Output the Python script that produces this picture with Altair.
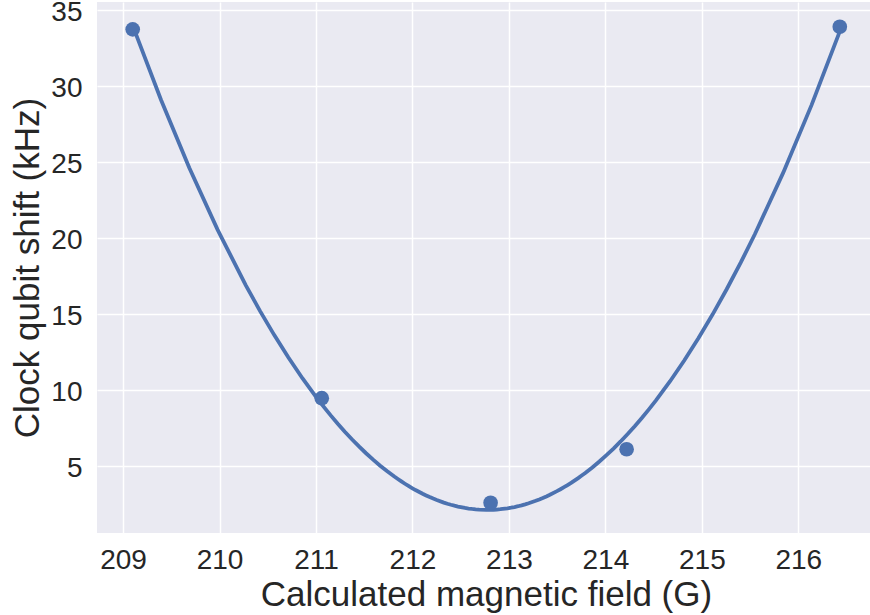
import altair as alt
import pandas as pd

field = [209.10, 211.06, 212.81, 214.22, 216.43]
shift = [33.75, 9.48, 2.60, 6.12, 33.92]

df = pd.DataFrame({"field": field, "shift": shift})

color = "#4c72b0"
x = alt.X("field:Q", scale=alt.Scale(domain=[208.73, 216.743], nice=False, zero=False),
          axis=alt.Axis(title="Calculated magnetic field (G)", values=list(range(209, 217)),
                        format="d", labelPadding=13, titlePadding=3, titleX=389))
y = alt.Y("shift:Q", scale=alt.Scale(domain=[0.61, 35.55], nice=False, zero=False),
          axis=alt.Axis(title="Clock qubit shift (kHz)", values=[5, 10, 15, 20, 25, 30, 35],
                        labelPadding=15, titlePadding=5, labelOffset=2))

pts = alt.Chart(df).mark_circle(size=215, opacity=1, color=color).encode(x=x, y=y)
fit = alt.Chart(df).transform_regression("field", "shift", method="poly", order=2).mark_line(
    color=color, strokeWidth=3.8).encode(x=x, y=y)

chart = (fit + pts).properties(
    width=773, height=531,
    autosize=alt.AutoSizeParams(type="none"),
    padding={"left": 97, "top": 2, "right": 0, "bottom": 82},
).configure_view(fill="#eaeaf2", stroke=None).configure_axis(
    grid=True, gridColor="white", gridWidth=1.5, domain=False, ticks=False,
    labelFont="Liberation Sans", titleFont="Liberation Sans",
    labelFontSize=28, titleFontSize=35, labelColor="#262626", titleColor="#262626",
    titleFontWeight="normal",
)

chart.save("out.html", embed_options={"renderer": "svg", "actions": False})
